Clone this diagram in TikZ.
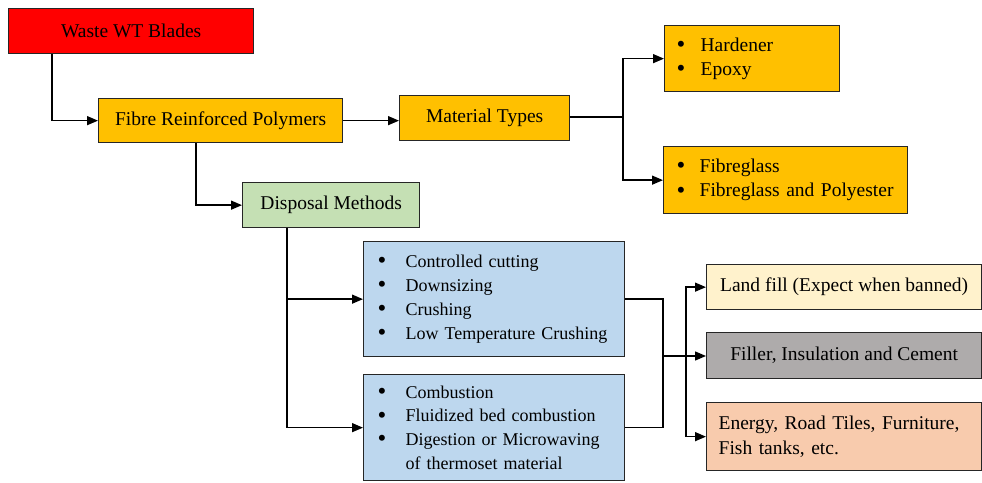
\documentclass[tikz,border=0pt]{standalone}
\usepackage{fontspec}
\setmainfont{Liberation Serif}
\usetikzlibrary{arrows.meta}
\definecolor{cred}{HTML}{FF0000}
\definecolor{corange}{HTML}{FFC000}
\definecolor{cgreen}{HTML}{C5E0B4}
\definecolor{cblue}{HTML}{BDD7EE}
\definecolor{ccream}{HTML}{FFF2CC}
\definecolor{cgray}{HTML}{AEABAB}
\definecolor{cpeach}{HTML}{F8CBAD}
\definecolor{cline}{HTML}{262626}
\tikzset{
  box/.style={draw=cline, line width=1.3pt, anchor=north west, inner sep=0pt,
    font=\fontsize{19.5}{24.3}\selectfont, text=black},
  onebox/.style={box, align=center},
  listbox/.style={box, align=left},
  smalltext/.style={font=\fontsize{18}{24}\selectfont},
  conn/.style={draw=black, line width=1.4pt},
  arr/.style={conn, -{Triangle[length=11pt,width=9pt]}},
}
\newcommand{\bul}[1]{\makebox[#1][l]{\raisebox{-1.2pt}{\fontsize{25}{25}\selectfont\textbullet}}}
\begin{document}
\begin{tikzpicture}[x=1pt,y=-1pt]
\useasboundingbox (0,0) rectangle (982,482);
% nodes
\node[onebox, fill=cred, minimum width=245pt, minimum height=45pt] (waste) at (8,8) {Waste WT Blades};
\node[onebox, fill=corange, minimum width=244pt, minimum height=44pt] (frp) at (98,98) {Fibre Reinforced Polymers};
\node[onebox, fill=corange, minimum width=170pt, minimum height=45pt] (mat) at (399,95) {Material Types};
\node[onebox, fill=cgreen, minimum width=177pt, minimum height=45pt] (disp) at (242,182) {Disposal Methods};
\node[listbox, fill=corange, inner xsep=12pt, text width=151pt, minimum height=66pt] (hard) at (664,25)
  {\bul{24pt}Hardener\\\bul{24pt}Epoxy};
\node[listbox, fill=corange, inner xsep=13pt, text width=218pt, minimum height=67pt] (fib) at (663,146)
  {\bul{23pt}Fibreglass\\\bul{23pt}Fibreglass and Polyester};
\node[listbox, smalltext, fill=cblue, inner xsep=14pt, text width=233pt, minimum height=115pt] (blueA) at (363,241)
  {\bul{28pt}Controlled cutting\\\bul{28pt}Downsizing\\\bul{28pt}Crushing\\\bul{28pt}Low Temperature Crushing};
\node[listbox, fill=cblue, font=\fontsize{18}{23.7}\selectfont, inner xsep=14pt, text width=233pt, minimum height=106pt] (blueB) at (363,374)
  {\bul{28pt}Combustion\\\bul{28pt}Fluidized bed combustion\\\bul{28pt}Digestion or Microwaving\\\hspace*{28pt}of thermoset material};
\node[onebox, fill=ccream, minimum width=275pt, minimum height=45pt] (land) at (706,264) {Land fill (Expect when banned)};
\node[onebox, fill=cgray, minimum width=275pt, minimum height=46pt] (filler) at (706,332) {Filler, Insulation and Cement};
\node[listbox, fill=cpeach, inner xsep=12pt, text width=251pt, minimum height=68pt] (energy) at (706,402)
  {Energy, Road Tiles, Furniture,\\Fish tanks, etc.};
% junction coordinates
\coordinate (mj) at (623,117);
\coordinate (bj) at (663,356);
\coordinate (oj) at (686,356);
% connectors
\draw[arr] ([xshift=44pt]waste.south west) |- (frp.west);
\draw[arr] (frp.east) -- (frp.east -| mat.west);
\draw[arr] ([xshift=98pt]frp.south west) |- (disp.west);
\draw[conn] (mat.east |- mj) -- (mj);
\draw[arr] (mj) |- (hard.west);
\draw[arr] (mj) |- (fib.west);
\draw[arr] ([xshift=45pt]disp.south west) |- (blueA.west);
\draw[arr] ([xshift=45pt]disp.south west) |- (blueB.west);
\draw[conn] (blueA.east) -| (bj);
\draw[conn] (blueB.east) -| (bj);
\draw[arr] (bj) -- (bj -| filler.west);
\draw[arr] (oj) |- (land.west);
\draw[arr] (oj) |- (energy.west);
\end{tikzpicture}
\end{document}
